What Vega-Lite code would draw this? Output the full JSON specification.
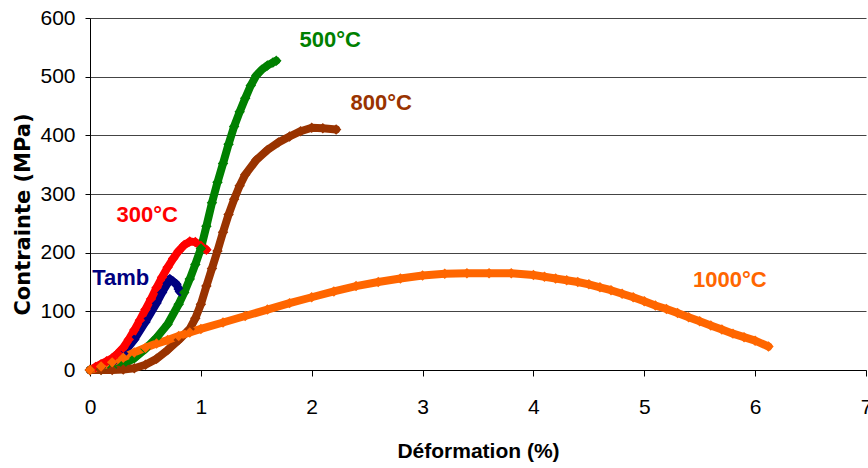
{
  "$schema": "https://vega.github.io/schema/vega-lite/v6.json",
  "width": 776,
  "height": 352,
  "autosize": {"type": "none"},
  "padding": {"left": 90, "top": 18, "right": 2, "bottom": 98},
  "background": "white",
  "config": {
    "view": {"stroke": null},
    "axis": {"domainColor": "#000000", "tickColor": "#000000", "labelColor": "#000000", "titleColor": "#000000"}
  },
  "datasets": {
    "curves": [
      {"serie": "Tamb", "x": 0, "y": 0}, {"serie": "Tamb", "x": 0.1, "y": 5}, {"serie": "Tamb", "x": 0.2, "y": 12}, {"serie": "Tamb", "x": 0.3, "y": 28}, {"serie": "Tamb", "x": 0.4, "y": 52}, {"serie": "Tamb", "x": 0.5, "y": 82}, {"serie": "Tamb", "x": 0.6, "y": 114}, {"serie": "Tamb", "x": 0.65, "y": 132}, {"serie": "Tamb", "x": 0.7, "y": 148}, {"serie": "Tamb", "x": 0.72, "y": 155}, {"serie": "Tamb", "x": 0.75, "y": 151}, {"serie": "Tamb", "x": 0.78, "y": 146}, {"serie": "Tamb", "x": 0.8, "y": 138}, {"serie": "Tamb", "x": 0.81, "y": 134},
      {"serie": "300°C", "x": 0, "y": 0}, {"serie": "300°C", "x": 0.05, "y": 5}, {"serie": "300°C", "x": 0.1, "y": 10}, {"serie": "300°C", "x": 0.15, "y": 15}, {"serie": "300°C", "x": 0.2, "y": 20}, {"serie": "300°C", "x": 0.25, "y": 28}, {"serie": "300°C", "x": 0.3, "y": 38}, {"serie": "300°C", "x": 0.35, "y": 52}, {"serie": "300°C", "x": 0.4, "y": 68}, {"serie": "300°C", "x": 0.45, "y": 85}, {"serie": "300°C", "x": 0.5, "y": 103}, {"serie": "300°C", "x": 0.55, "y": 121}, {"serie": "300°C", "x": 0.6, "y": 140}, {"serie": "300°C", "x": 0.65, "y": 158}, {"serie": "300°C", "x": 0.7, "y": 175}, {"serie": "300°C", "x": 0.75, "y": 190}, {"serie": "300°C", "x": 0.8, "y": 203}, {"serie": "300°C", "x": 0.85, "y": 213}, {"serie": "300°C", "x": 0.9, "y": 219}, {"serie": "300°C", "x": 0.95, "y": 218}, {"serie": "300°C", "x": 1.0, "y": 212}, {"serie": "300°C", "x": 1.05, "y": 205},
      {"serie": "500°C", "x": 0, "y": 0}, {"serie": "500°C", "x": 0.1, "y": 1}, {"serie": "500°C", "x": 0.2, "y": 4}, {"serie": "500°C", "x": 0.3, "y": 10}, {"serie": "500°C", "x": 0.4, "y": 20}, {"serie": "500°C", "x": 0.5, "y": 36}, {"serie": "500°C", "x": 0.6, "y": 55}, {"serie": "500°C", "x": 0.7, "y": 78}, {"serie": "500°C", "x": 0.8, "y": 112}, {"serie": "500°C", "x": 0.85, "y": 132}, {"serie": "500°C", "x": 0.9, "y": 155}, {"serie": "500°C", "x": 0.95, "y": 180}, {"serie": "500°C", "x": 1.0, "y": 207}, {"serie": "500°C", "x": 1.05, "y": 245}, {"serie": "500°C", "x": 1.1, "y": 285}, {"serie": "500°C", "x": 1.15, "y": 320}, {"serie": "500°C", "x": 1.2, "y": 352}, {"serie": "500°C", "x": 1.25, "y": 385}, {"serie": "500°C", "x": 1.3, "y": 415}, {"serie": "500°C", "x": 1.35, "y": 440}, {"serie": "500°C", "x": 1.4, "y": 463}, {"serie": "500°C", "x": 1.45, "y": 485}, {"serie": "500°C", "x": 1.5, "y": 502}, {"serie": "500°C", "x": 1.55, "y": 512}, {"serie": "500°C", "x": 1.6, "y": 519}, {"serie": "500°C", "x": 1.65, "y": 524}, {"serie": "500°C", "x": 1.68, "y": 527},
      {"serie": "800°C", "x": 0, "y": 0}, {"serie": "800°C", "x": 0.1, "y": 0}, {"serie": "800°C", "x": 0.2, "y": 0}, {"serie": "800°C", "x": 0.3, "y": 1}, {"serie": "800°C", "x": 0.4, "y": 3}, {"serie": "800°C", "x": 0.5, "y": 9}, {"serie": "800°C", "x": 0.6, "y": 19}, {"serie": "800°C", "x": 0.7, "y": 34}, {"serie": "800°C", "x": 0.8, "y": 51}, {"serie": "800°C", "x": 0.9, "y": 70}, {"serie": "800°C", "x": 0.95, "y": 88}, {"serie": "800°C", "x": 1.0, "y": 112}, {"serie": "800°C", "x": 1.05, "y": 143}, {"serie": "800°C", "x": 1.1, "y": 173}, {"serie": "800°C", "x": 1.15, "y": 203}, {"serie": "800°C", "x": 1.2, "y": 235}, {"serie": "800°C", "x": 1.25, "y": 265}, {"serie": "800°C", "x": 1.3, "y": 291}, {"serie": "800°C", "x": 1.35, "y": 314}, {"serie": "800°C", "x": 1.4, "y": 333}, {"serie": "800°C", "x": 1.5, "y": 358}, {"serie": "800°C", "x": 1.6, "y": 375}, {"serie": "800°C", "x": 1.7, "y": 388}, {"serie": "800°C", "x": 1.8, "y": 398}, {"serie": "800°C", "x": 1.9, "y": 407}, {"serie": "800°C", "x": 2.0, "y": 413}, {"serie": "800°C", "x": 2.1, "y": 412}, {"serie": "800°C", "x": 2.22, "y": 410},
      {"serie": "1000°C", "x": 0, "y": 0}, {"serie": "1000°C", "x": 0.1, "y": 6}, {"serie": "1000°C", "x": 0.2, "y": 13}, {"serie": "1000°C", "x": 0.3, "y": 21}, {"serie": "1000°C", "x": 0.4, "y": 30}, {"serie": "1000°C", "x": 0.5, "y": 38}, {"serie": "1000°C", "x": 0.6, "y": 45}, {"serie": "1000°C", "x": 0.7, "y": 51}, {"serie": "1000°C", "x": 0.8, "y": 58}, {"serie": "1000°C", "x": 0.9, "y": 64}, {"serie": "1000°C", "x": 1.0, "y": 70}, {"serie": "1000°C", "x": 1.2, "y": 81}, {"serie": "1000°C", "x": 1.4, "y": 92}, {"serie": "1000°C", "x": 1.6, "y": 103}, {"serie": "1000°C", "x": 1.8, "y": 114}, {"serie": "1000°C", "x": 2.0, "y": 124}, {"serie": "1000°C", "x": 2.2, "y": 134}, {"serie": "1000°C", "x": 2.4, "y": 143}, {"serie": "1000°C", "x": 2.6, "y": 150}, {"serie": "1000°C", "x": 2.8, "y": 156}, {"serie": "1000°C", "x": 3.0, "y": 161}, {"serie": "1000°C", "x": 3.2, "y": 164}, {"serie": "1000°C", "x": 3.4, "y": 165}, {"serie": "1000°C", "x": 3.6, "y": 165}, {"serie": "1000°C", "x": 3.8, "y": 165}, {"serie": "1000°C", "x": 4.0, "y": 162}, {"serie": "1000°C", "x": 4.1, "y": 159}, {"serie": "1000°C", "x": 4.2, "y": 156}, {"serie": "1000°C", "x": 4.3, "y": 153}, {"serie": "1000°C", "x": 4.4, "y": 150}, {"serie": "1000°C", "x": 4.5, "y": 146}, {"serie": "1000°C", "x": 4.6, "y": 141}, {"serie": "1000°C", "x": 4.7, "y": 136}, {"serie": "1000°C", "x": 4.8, "y": 130}, {"serie": "1000°C", "x": 4.9, "y": 124}, {"serie": "1000°C", "x": 5.0, "y": 117}, {"serie": "1000°C", "x": 5.1, "y": 110}, {"serie": "1000°C", "x": 5.2, "y": 104}, {"serie": "1000°C", "x": 5.3, "y": 97}, {"serie": "1000°C", "x": 5.4, "y": 90}, {"serie": "1000°C", "x": 5.5, "y": 83}, {"serie": "1000°C", "x": 5.6, "y": 76}, {"serie": "1000°C", "x": 5.7, "y": 69}, {"serie": "1000°C", "x": 5.8, "y": 62}, {"serie": "1000°C", "x": 5.9, "y": 56}, {"serie": "1000°C", "x": 6.0, "y": 50}, {"serie": "1000°C", "x": 6.12, "y": 40}
    ],
    "labels": [
      {"serie": "500°C", "x": 1.89, "y": 551},
      {"serie": "800°C", "x": 2.35, "y": 443},
      {"serie": "300°C", "x": 0.24, "y": 253},
      {"serie": "Tamb", "x": 0.02, "y": 145},
      {"serie": "1000°C", "x": 5.44, "y": 142}
    ]
  },
  "encoding": {
    "x": {"field": "x", "type": "quantitative", "scale": {"domain": [0, 7], "nice": false},
      "axis": {"title": "Déformation (%)", "values": [0, 1, 2, 3, 4, 5, 6, 7], "grid": false, "tickSize": 6, "labelPadding": 20, "labelFlush": false, "labelOverlap": false,
        "labelFont": "Liberation Sans, Arial", "labelFontSize": 21, "labelFontWeight": "normal",
        "titleFont": "Liberation Sans, Arial", "titleFontSize": 21, "titleFontWeight": "bold",
        "titleY": 87, "titleBaseline": "alphabetic"}},
    "y": {"field": "y", "type": "quantitative", "scale": {"domain": [0, 600], "nice": false},
      "axis": {"title": "Contrainte (MPa)", "values": [0, 100, 200, 300, 400, 500, 600], "grid": true, "gridColor": "#444444", "gridWidth": 1, "gridOpacity": 1,
        "tickSize": 5, "labelPadding": 10, "labelOverlap": false,
        "labelFont": "Liberation Sans, Arial", "labelFontSize": 21,
        "titleFont": "DejaVu Sans", "titleFontSize": 21, "titleFontWeight": "bold",
        "titleX": -67, "titleY": 196, "titleBaseline": "middle", "titleAngle": -90}},
    "color": {"field": "serie", "type": "nominal", "legend": null,
      "scale": {"domain": ["Tamb", "300°C", "500°C", "800°C", "1000°C"], "range": ["#000080", "#FF0000", "#008000", "#993300", "#FF6600"]}}
  },
  "layer": [
    {"data": {"name": "curves"}, "mark": {"type": "line", "strokeWidth": 8, "strokeJoin": "round", "strokeCap": "round"}},
    {"data": {"name": "curves"}, "mark": {"type": "point", "shape": "diamond", "filled": true, "size": 110, "opacity": 1}},
    {"data": {"name": "labels"}, "mark": {"type": "text", "align": "left", "baseline": "alphabetic", "font": "Liberation Sans, Arial", "fontSize": 22, "fontWeight": "bold"},
      "encoding": {"text": {"field": "serie"}}}
  ]
}
